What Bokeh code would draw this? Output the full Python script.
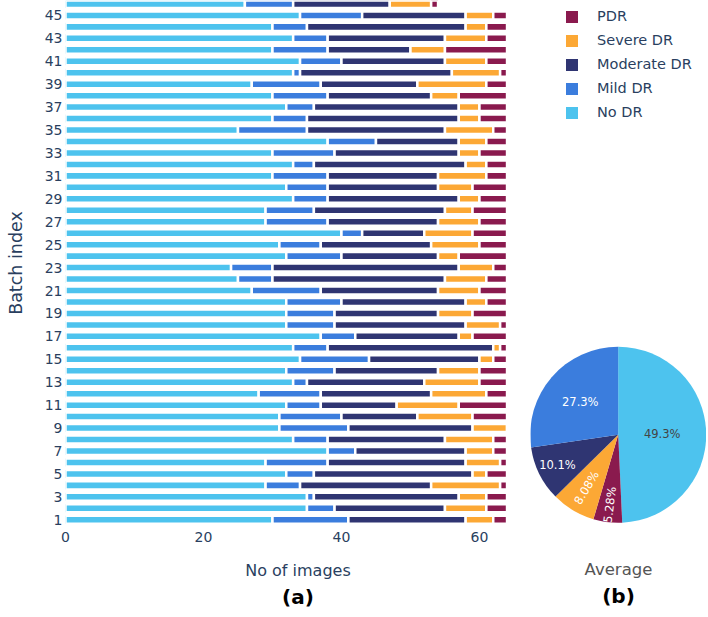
import math
from bokeh.plotting import figure
from bokeh.models import (ColumnDataSource, Range1d, FixedTicker, Title, Legend, LegendItem,
                          LinearAxis)
from bokeh.layouts import row
from bokeh.embed import file_html
from bokeh.resources import INLINE
from bokeh.core.properties import value

# ---------------- data ----------------
batches = list(range(1, 47))
no_dr = [30, 35, 35, 29, 32, 29, 38, 33, 31, 31, 32, 28, 33, 32, 34, 33, 37, 32, 32, 32,
         27, 25, 24, 32, 31, 40, 29, 29, 33, 32, 30, 33, 30, 38, 25, 30, 32, 30, 27, 33,
         34, 30, 33, 30, 34, 26]
mild_dr = [11, 4, 1, 5, 4, 9, 4, 5, 10, 9, 5, 9, 2, 7, 10, 5, 5, 7, 7, 8,
           10, 5, 6, 8, 6, 3, 9, 7, 5, 6, 8, 3, 9, 7, 10, 5, 4, 8, 10, 1,
           6, 8, 5, 5, 9, 7]
moderate_dr = [17, 16, 21, 19, 23, 20, 16, 17, 18, 11, 11, 16, 17, 15, 16, 24, 15, 19, 15, 18,
               17, 25, 27, 14, 16, 9, 16, 19, 19, 16, 16, 22, 18, 12, 20, 22, 21, 15, 14, 22,
               15, 12, 17, 23, 15, 14]
severe_dr = [4, 6, 4, 10, 2, 5, 4, 7, 5, 8, 9, 8, 8, 6, 2, 1, 2, 5, 5, 3,
             6, 6, 5, 3, 7, 7, 6, 4, 3, 5, 7, 3, 3, 4, 7, 3, 3, 4, 10, 7,
             6, 5, 6, 3, 4, 6]
pdr = [2, 3, 3, 1, 3, 1, 2, 2, 0, 5, 7, 3, 4, 4, 2, 1, 5, 1, 5, 3,
       4, 3, 2, 7, 4, 5, 4, 5, 4, 5, 3, 3, 4, 3, 2, 4, 4, 7, 3, 1,
       3, 9, 3, 3, 2, 1]

categories = ["No DR", "Mild DR", "Moderate DR", "Severe DR", "PDR"]
cat_keys = ["no_dr", "mild_dr", "moderate_dr", "severe_dr", "pdr"]
cat_colors = ["#4DC3EE", "#3B7DDD", "#2F3572", "#FCA835", "#8A1A4E"]

x_ticks = [0, 20, 40, 60]
y_ticks = list(range(1, 46, 2))

pie_names = ["No DR", "PDR", "Severe DR", "Moderate DR", "Mild DR"]
pie_values = [49.3, 5.28, 8.08, 10.1, 27.3]
pie_text = ["49.3%", "5.28%", "8.08%", "10.1%", "27.3%"]
pie_colors = ["#4DC3EE", "#8A1A4E", "#FCA835", "#2F3572", "#3B7DDD"]
pie_text_colors = ["#444444", "#FFFFFF", "#FFFFFF", "#FFFFFF", "#FFFFFF"]
legend_order = ["PDR", "Severe DR", "Moderate DR", "Mild DR", "No DR"]

# ---------------- styling ----------------
FONT = "DejaVu Sans"
TXT = "#2a3f5f"
H = 615
BOTTOM = 90

# ---------------- (a) stacked bars ----------------
src = ColumnDataSource(dict(batch=batches, no_dr=no_dr, mild_dr=mild_dr,
                            moderate_dr=moderate_dr, severe_dr=severe_dr, pdr=pdr))

p = figure(width=530, height=H, x_range=Range1d(0, 67.4), y_range=Range1d(0.5, 46.3),
           min_border_left=65, min_border_right=0, min_border_top=0, min_border_bottom=BOTTOM,
           output_backend="svg", toolbar_location=None)
p.hbar_stack(cat_keys, y="batch", height=0.7, color=cat_colors, source=src,
             line_color="white", line_width=2.5)

p.xaxis.ticker = FixedTicker(ticks=x_ticks)
p.yaxis.ticker = FixedTicker(ticks=y_ticks)
p.xgrid.visible = False
p.ygrid.visible = False
p.outline_line_color = None
p.axis.axis_line_color = None
p.axis.major_tick_line_color = None
p.axis.minor_tick_line_color = None
p.axis.major_tick_out = 0
p.axis.major_label_text_font = FONT
p.axis.major_label_text_font_size = "14px"
p.axis.major_label_text_color = TXT
p.yaxis.major_label_standoff = 3
p.xaxis.major_label_standoff = 6
p.xaxis.axis_label = "No of images"
p.xaxis.axis_label_text_font = FONT
p.xaxis.axis_label_text_font_size = "16px"
p.xaxis.axis_label_text_font_style = "normal"
p.xaxis.axis_label_text_color = TXT
p.xaxis.axis_label_standoff = 16
p.yaxis.axis_label = "Batch index"
p.yaxis.axis_label_text_font = FONT
p.yaxis.axis_label_text_font_size = "17.5px"
p.yaxis.axis_label_text_font_style = "normal"
p.yaxis.axis_label_text_color = TXT
p.yaxis.axis_label_standoff = 16
p.add_layout(Title(text="(a)", align="center", text_font=FONT, text_font_size="20px",
                   text_font_style="bold", text_color="black", standoff=0), "below")

# ---------------- (b) pie ----------------
q = figure(width=176, height=H, x_range=Range1d(0, 176), y_range=Range1d(0, H - BOTTOM),
           min_border_left=0, min_border_right=0, min_border_top=0, min_border_bottom=BOTTOM,
           x_axis_type=None, y_axis_type=None,
           output_backend="svg", toolbar_location=None)
q.outline_line_color = None
q.grid.visible = False

cx, cy, rad = 87.7, 90.7, 88
total = sum(pie_values)
starts, ends, lx, ly, lang = [], [], [], [], []
radial_flag = [False, True, True, False, False]
label_r = [0.5, 0.8, 0.7, 0.77, 0.57]
cum = 0.0
for i, v in enumerate(pie_values):
    a0 = math.pi / 2 - 2 * math.pi * cum / total
    cum += v
    a1 = math.pi / 2 - 2 * math.pi * cum / total
    starts.append(a1)
    ends.append(a0)
    mid = (a0 + a1) / 2
    lx.append(cx + label_r[i] * rad * math.cos(mid))
    ly.append(cy + label_r[i] * rad * math.sin(mid))
    lang.append(mid + math.pi if radial_flag[i] else 0.0)

psrc = ColumnDataSource(dict(name=pie_names, start=starts, end=ends, color=pie_colors,
                             text=pie_text, tx=lx, ty=ly, ang=lang, tcol=pie_text_colors))
wr = q.wedge(x=cx, y=cy, radius=rad, radius_units="screen", start_angle="start",
             end_angle="end", fill_color="color", line_color=None, source=psrc)
q.text(x="tx", y="ty", text="text", angle="ang", text_color="tcol",
       text_font=value(FONT), text_font_size="11.5px", text_align="center",
       text_baseline="middle", source=psrc)

items = [LegendItem(label=n, renderers=[wr], index=pie_names.index(n)) for n in legend_order]
leg = Legend(items=items, location=(34, 404), glyph_width=15, glyph_height=15,
             label_height=18, spacing=6, padding=0, margin=0, label_standoff=18,
             border_line_color=None, background_fill_alpha=0,
             label_text_font=FONT, label_text_font_size="14.5px", label_text_color=TXT)
q.add_layout(leg)

pie_axis = LinearAxis(ticker=FixedTicker(ticks=[]), axis_label="Average",
                      axis_line_color=None, major_tick_line_color=None,
                      minor_tick_line_color=None, major_tick_out=0, major_label_standoff=0,
                      axis_label_standoff=34, axis_label_text_font=FONT,
                      axis_label_text_font_size="16.5px", axis_label_text_font_style="normal",
                      axis_label_text_color="#555555")
q.add_layout(pie_axis, "below")
q.add_layout(Title(text="(b)", align="center", text_font=FONT, text_font_size="20px",
                   text_font_style="bold", text_color="black", standoff=0), "below")

layout = row(p, q)
open("out.html", "w").write(file_html(layout, INLINE))
